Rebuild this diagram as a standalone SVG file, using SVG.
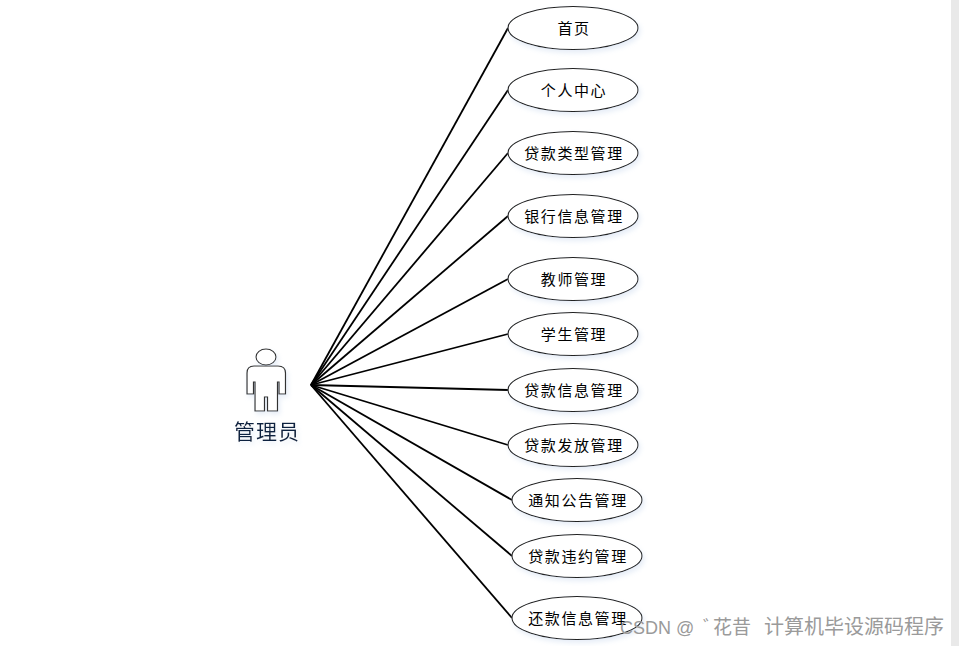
<svg xmlns="http://www.w3.org/2000/svg" width="959" height="646" viewBox="0 0 959 646">
<defs>
<filter id="glow" x="-10%" y="-20%" width="120%" height="150%"><feDropShadow dx="2" dy="3" stdDeviation="2.5" flood-color="#c9d8ee" flood-opacity="0.45"/></filter>
</defs>
<style>
.u{fill:#fff;stroke:#222;stroke-width:1.1;filter:url(#glow)}
.t{font:15px "Liberation Sans","Noto Sans CJK SC",sans-serif;letter-spacing:1.6px;fill:#000;text-anchor:middle}
.c line{stroke:#000;stroke-width:1.8}
.w{font:20px "Liberation Sans","Noto Sans CJK SC",sans-serif;fill:#9a9a9a}
</style>
<rect width="959" height="646" fill="#fff"/>
<rect x="951" y="0" width="8" height="646" fill="#e9e9e9"/>
<g id="connectors" class="c">
<line x1="311" y1="385" x2="508" y2="28"/>
<line x1="311" y1="385" x2="508" y2="90"/>
<line x1="311" y1="385" x2="508" y2="153"/>
<line x1="311" y1="385" x2="508" y2="216"/>
<line x1="311" y1="385" x2="508" y2="279"/>
<line x1="311" y1="385" x2="508" y2="334"/>
<line x1="311" y1="385" x2="508" y2="390"/>
<line x1="311" y1="385" x2="508" y2="445"/>
<line x1="311" y1="385" x2="512" y2="500"/>
<line x1="311" y1="385" x2="512" y2="556"/>
<line x1="311" y1="385" x2="512" y2="618"/>
</g>
<g id="actor" filter="url(#glow)">
<ellipse cx="266" cy="357" rx="10" ry="8" fill="#fff" stroke="#333" stroke-width="1.1"/>
<path d="M254 366H278Q285.500 366 285.500 373V394H279V382H277.500V411H267.500V397H264.500V411H255V382H253.500V394H247V373Q247 366 254 366Z" fill="#fff" stroke="#333" stroke-width="1.2"/>
<text x="267" y="439" style="font:21px 'Noto Sans CJK SC','Liberation Sans',sans-serif;letter-spacing:1px;text-anchor:middle" fill="#10233f">管理员</text>
</g>
<g id="n1"><ellipse class="u" cx="573" cy="28" rx="65" ry="21.500"/><text class="t" x="574" y="33.500">首页</text></g>
<g id="n2"><ellipse class="u" cx="573" cy="90" rx="65" ry="21.500"/><text class="t" x="574" y="95.500">个人中心</text></g>
<g id="n3"><ellipse class="u" cx="573" cy="153" rx="65" ry="21.500"/><text class="t" x="574" y="158.500">贷款类型管理</text></g>
<g id="n4"><ellipse class="u" cx="573" cy="216" rx="65" ry="21.500"/><text class="t" x="574" y="221.500">银行信息管理</text></g>
<g id="n5"><ellipse class="u" cx="573" cy="279" rx="65" ry="21.500"/><text class="t" x="574" y="284.500">教师管理</text></g>
<g id="n6"><ellipse class="u" cx="573" cy="334" rx="65" ry="21.500"/><text class="t" x="574" y="339.500">学生管理</text></g>
<g id="n7"><ellipse class="u" cx="573" cy="390" rx="65" ry="21.500"/><text class="t" x="574" y="395.500">贷款信息管理</text></g>
<g id="n8"><ellipse class="u" cx="573" cy="445" rx="65" ry="21.500"/><text class="t" x="574" y="450.500">贷款发放管理</text></g>
<g id="n9"><ellipse class="u" cx="577" cy="500" rx="65" ry="21.500"/><text class="t" x="578" y="505.500">通知公告管理</text></g>
<g id="n10"><ellipse class="u" cx="577" cy="556" rx="65" ry="21.500"/><text class="t" x="578" y="561.500">贷款违约管理</text></g>
<g id="n11"><ellipse class="u" cx="577" cy="618" rx="65" ry="21.500"/><text class="t" x="578" y="623.500">还款信息管理</text></g>
<g id="watermark">
<text class="w" x="620" y="634" style="font-size:18px">CSDN @</text>
<text class="w" x="703" y="634" style="font-size:18px">゛</text>
<text class="w" x="713" y="634" style="font-size:19px">花昔</text>
<text class="w" x="764" y="634">计算机毕设源码程序</text>
</g>
</svg>
